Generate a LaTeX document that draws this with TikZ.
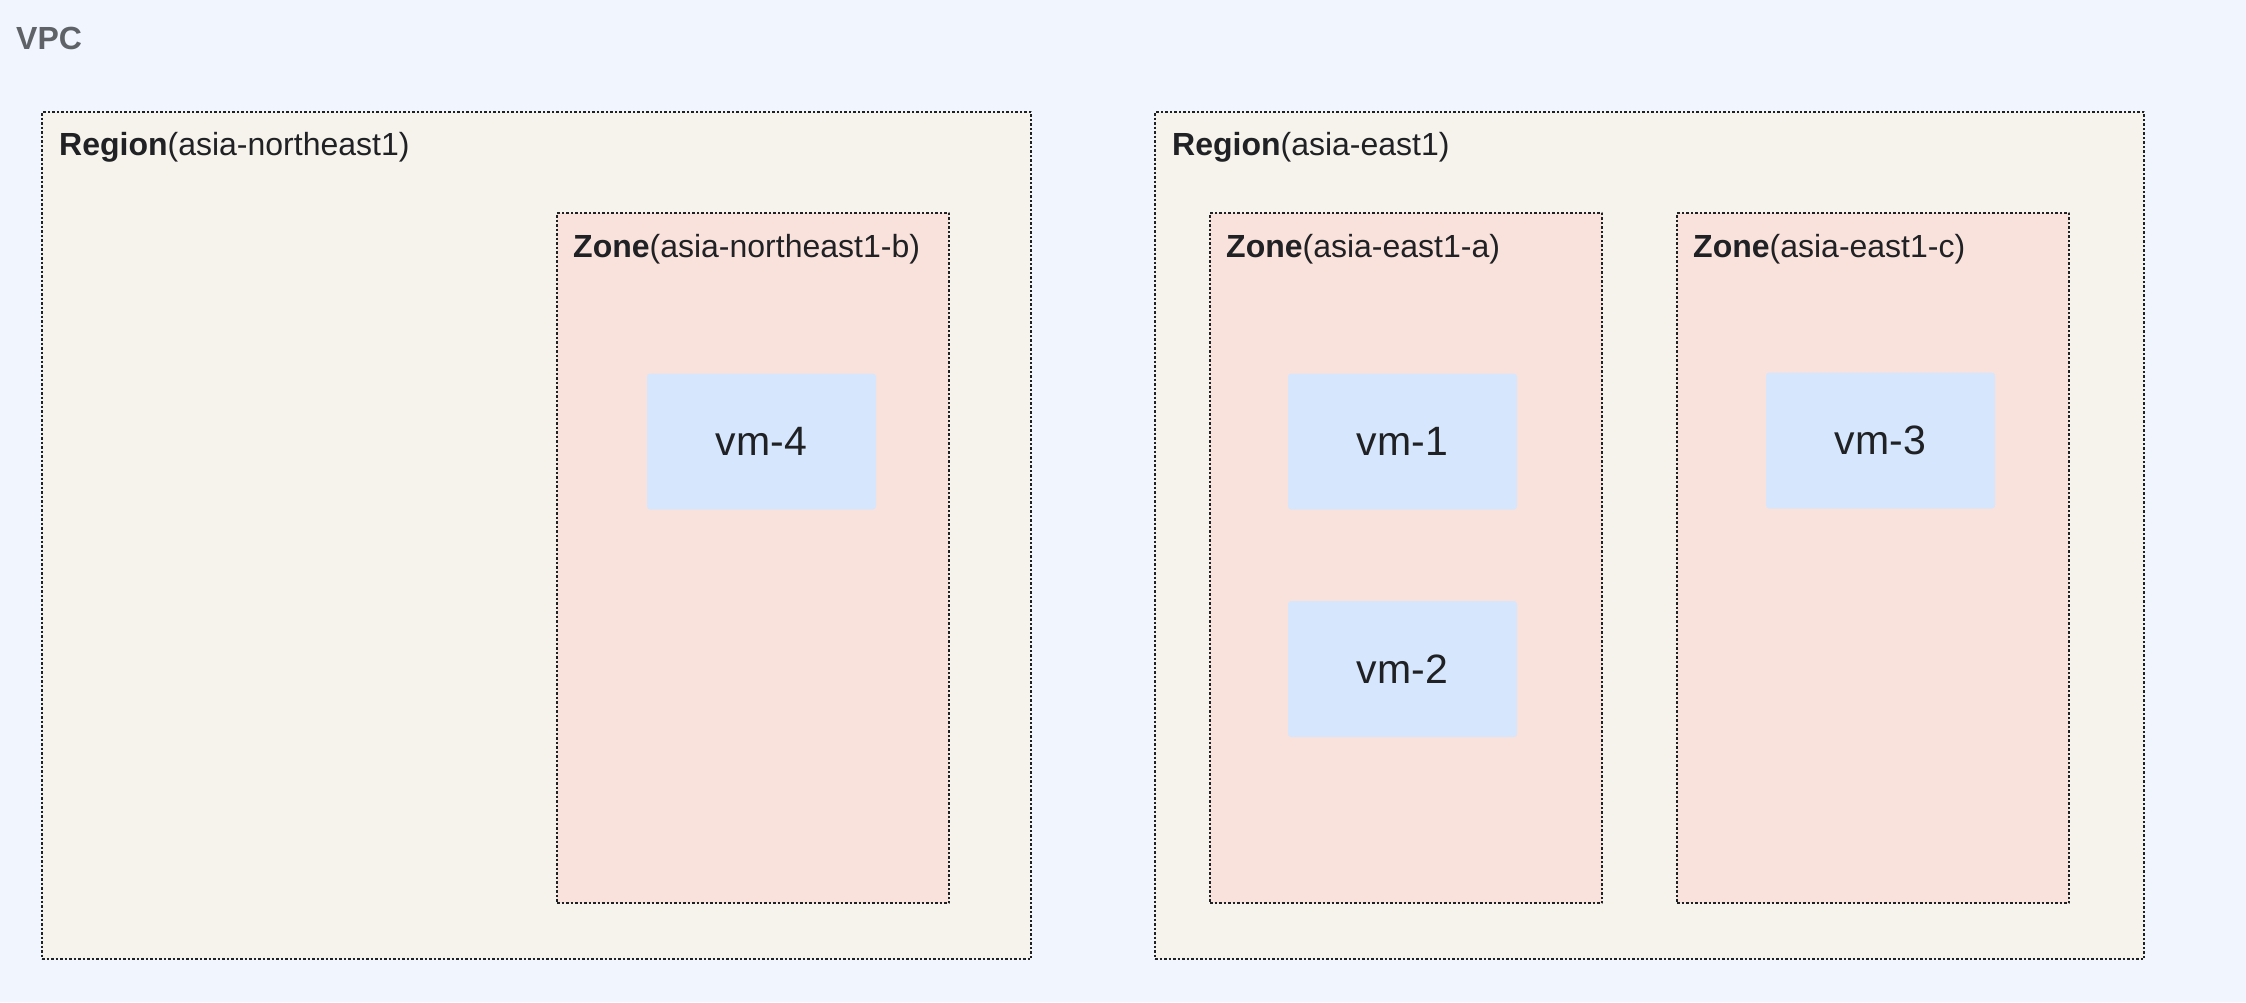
\documentclass[tikz,border=0pt]{standalone}
\usepackage{fontspec}
\setmainfont{Liberation Sans}
\definecolor{vpcbg}{HTML}{F0F5FE}
\definecolor{regionbg}{HTML}{F6F3EC}
\definecolor{zonebg}{HTML}{FAE2DC}
\definecolor{vmbg}{HTML}{D6E6FC}
\definecolor{ink}{HTML}{202124}
\definecolor{vpcgrey}{HTML}{5F6368}
\tikzset{
  box/.style={rectangle, draw=ink, line width=1.2pt, dash pattern=on 2.5pt off 2pt, anchor=north west, inner sep=0pt, outer sep=0pt},
  regionbox/.style={box, fill=regionbg, minimum width=989pt, minimum height=847pt},
  zonebox/.style={box, fill=zonebg, minimum width=392pt, minimum height=690pt},
  vmbox/.style={rectangle, fill=vmbg, rounded corners=3pt, minimum width=229pt, minimum height=136pt, text=ink, font=\fontsize{41}{48}\selectfont},
  tag/.style={anchor=base west, inner sep=0pt, text=ink, font=\fontsize{32}{38}\selectfont}
}
\begin{document}
\begin{tikzpicture}[x=1pt, y=-1pt, line join=round]
  \useasboundingbox (0,0) rectangle (2246,1002);
  \fill[vpcbg] (0,0) rectangle (2246,1002);
  \node[tag, text=vpcgrey] (vpc) at (16,49) {\textbf{VPC}};
  % regions
  \node[regionbox] (r1) at (42,112) {};
  \node[regionbox] (r2) at (1155,112) {};
  \node[tag] (r1lab) at ([shift={(17,43)}]r1.north west) {\textbf{Region}(asia-northeast1)};
  \node[tag] (r2lab) at ([shift={(17,43)}]r2.north west) {\textbf{Region}(asia-east1)};
  % zones
  \node[zonebox] (zb) at (557,213) {};
  \node[zonebox] (za) at (1210,213) {};
  \node[zonebox] (zc) at (1677,213) {};
  \node[tag] (zblab) at ([shift={(16,44)}]zb.north west) {\textbf{Zone}(asia-northeast1-b)};
  \node[tag] (zalab) at ([shift={(16,44)}]za.north west) {\textbf{Zone}(asia-east1-a)};
  \node[tag] (zclab) at ([shift={(16,44)}]zc.north west) {\textbf{Zone}(asia-east1-c)};
  % vms
  \node[vmbox] (vm4) at (761.5,441.5) {vm-4};
  \node[vmbox] (vm1) at (1402.5,441.5) {vm-1};
  \node[vmbox] (vm2) at (1402.5,669) {vm-2};
  \node[vmbox] (vm3) at (1880.5,440.5) {vm-3};
\end{tikzpicture}
\end{document}
